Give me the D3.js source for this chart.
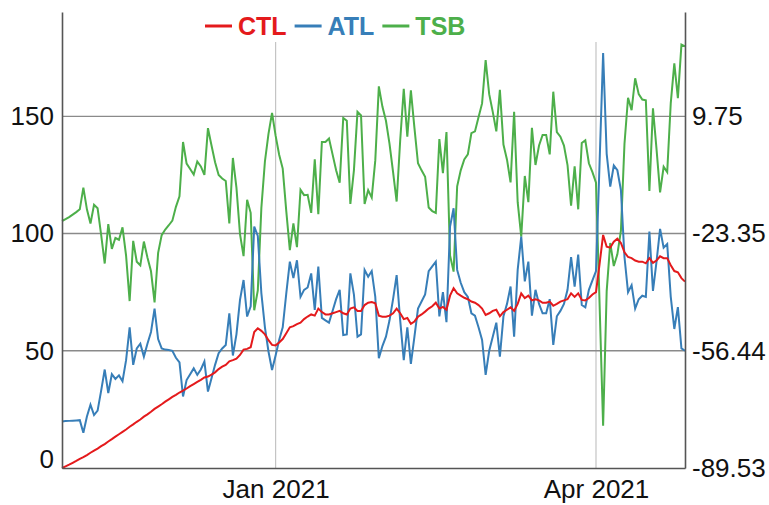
<!DOCTYPE html>
<html>
<head>
<meta charset="utf-8">
<script src="https://cdn.jsdelivr.net/npm/d3@7"></script>
<style>
    body { margin: 0; background: #fff; }
    svg { display: block; font-family: "Liberation Sans", Arial, sans-serif; }
</style>
</head>
<body>
<svg id="chart" width="769" height="505"></svg>
<script>
// first day of the series, one value per day after that
const startDate = new Date(2020, 10, 2);

const ctl = [
    0, 0.7, 1.4, 2.2, 3.0, 3.9, 4.6, 5.5, 6.5, 7.4,
    8.3, 9.3, 10.2, 11.3, 12.3, 13.4, 14.4, 15.4, 16.4, 17.6,
    18.6, 19.7, 20.7, 21.9, 22.9, 24.0, 25.2, 26.2, 27.2, 28.3,
    29.3, 30.3, 31.2, 32.2, 33.0, 33.9, 34.9, 35.8, 36.7, 37.6,
    38.6, 39.0, 39.8, 40.8, 42.2, 43.2, 44.0, 45.5, 46.0, 46.6,
    48.2, 50.5, 50.8, 51.5, 58.0, 59.6, 58.5, 57.0, 54.5, 52.5,
    52.3, 53.5, 55.0, 57.5, 60.0, 60.5, 61.4, 62.0, 63.5, 64.6,
    65.5, 65.0, 68.0, 66.5, 65.5, 65.5, 66.0, 66.5, 67.0, 66.0,
    65.5, 68.0, 68.5, 67.0, 67.0, 69.5, 70.5, 70.8, 70.3, 65.0,
    64.5, 64.5, 65.0, 66.0, 68.0, 66.0, 63.5, 64.0, 61.5, 62.5,
    64.5, 65.5, 66.7, 68.0, 69.0, 70.5, 68.0, 68.7, 67.5, 73.5,
    76.7, 74.5, 73.5, 72.6, 72.0, 71.0, 70.5, 69.5, 68.0, 65.3,
    66.0, 67.0, 67.5, 64.7, 66.5, 67.5, 68.5, 67.0, 70.0, 74.5,
    72.5, 73.5, 71.5, 72.0, 71.5, 70.5, 70.5, 71.0, 69.2, 70.0,
    71.0, 71.5, 72.0, 74.5, 73.0, 74.5, 71.7, 71.5, 72.5, 74.0,
    75.0, 87.0, 99.4, 94.4, 94.0, 96.5, 97.8, 96.0, 92.0, 90.0,
    89.5, 88.5, 88.0, 88.0, 87.3, 89.5, 87.5, 88.5, 90.3, 89.5,
    89.5, 86.5, 84.0, 83.5, 81.0, 79.5
];

const atl = [
    19.8, 20.0, 20.1, 20.2, 20.3, 20.4, 15.0, 22.0, 27.0, 22.6,
    24.5, 33.0, 42.0, 32.0, 40.0, 38.0, 39.5, 37.0, 46.0, 60.0,
    44.0, 51.0, 53.0, 47.5, 53.0, 58.0, 68.0, 55.0, 51.0, 50.5,
    50.3, 50.0, 47.0, 45.0, 30.5, 37.5, 40.0, 42.5, 39.7, 42.0,
    45.4, 32.6, 38.3, 44.0, 49.0, 51.0, 52.5, 66.0, 48.0, 57.0,
    71.7, 80.2, 64.6, 69.0, 103.0, 99.0, 74.6, 60.0, 49.7, 41.8,
    48.0, 54.6, 60.0, 74.5, 88.0, 81.0, 88.6, 73.0, 76.0, 77.0,
    83.0, 67.4, 85.9, 64.0, 63.0, 62.0, 67.0, 72.0, 76.0, 56.7,
    57.0, 83.0, 74.0, 56.0, 57.0, 84.5, 81.6, 84.0, 73.0, 46.8,
    52.0, 56.0, 63.0, 72.0, 82.3, 63.0, 46.0, 60.0, 44.4, 56.0,
    68.0, 71.0, 74.0, 84.0, 86.0, 88.0, 64.7, 75.0, 62.2, 103.0,
    110.8, 84.5, 79.0, 75.0, 73.0, 66.0, 65.0, 60.0, 54.6, 39.7,
    50.0, 56.0, 62.0, 47.5, 64.7, 70.0, 77.4, 56.0, 84.5, 98.7,
    79.6, 88.0, 65.0, 76.0, 70.0, 66.0, 66.0, 72.0, 52.5, 64.7,
    67.0, 70.0, 76.0, 90.0, 77.4, 91.0, 69.5, 68.5, 76.0, 80.0,
    84.0, 130.0, 177.0, 134.0, 120.0, 129.0, 127.0, 118.5, 90.0, 75.0,
    78.0, 68.0, 72.0, 73.5, 73.0, 100.8, 75.5, 88.0, 102.0, 94.0,
    95.5, 73.0, 59.3, 68.6, 51.0, 50.0
];

const tsb = [
    -19.8, -19.3, -18.7, -18.0, -17.3, -16.5, -10.4, -16.5, -20.5, -15.2,
    -16.2, -23.7, -31.8, -20.7, -27.7, -24.6, -25.1, -21.6, -29.6, -42.4,
    -25.4, -31.3, -32.3, -25.6, -30.1, -34.0, -42.8, -28.8, -23.8, -22.2,
    -21.0, -19.7, -15.8, -12.8, 2.5, -3.6, -5.1, -6.7, -3.0, -4.4,
    -6.8, 6.4, 1.5, -3.2, -6.8, -7.8, -8.5, -20.5, -2.0, -10.4,
    -23.5, -29.7, -13.8, -17.5, -45.0, -39.4, -16.1, -3.0, 4.8, 10.7,
    4.3, -1.1, -5.0, -17.0, -28.0, -20.5, -27.2, -11.0, -12.5, -12.4,
    -17.5, -2.4, -17.9, 2.5, 2.5, 3.5, -1.0, -5.5, -9.0, 9.3,
    8.5, -15.0, -5.5, 11.0, 10.0, -15.0, -11.1, -13.2, -2.7, 18.2,
    12.5, 8.5, 2.0, -6.0, -14.3, 3.0, 17.5, 4.0, 17.1, 6.5,
    -3.5, -5.5, -7.3, -16.0, -17.0, -17.5, 3.3, -6.3, 5.3, -29.5,
    -34.1, -10.0, -5.5, -2.4, -1.0, 5.0, 5.5, 9.5, 13.4, 25.6,
    16.0, 11.0, 5.5, 17.2, 1.8, -2.5, -8.9, 11.0, -14.5, -24.2,
    -7.1, -14.5, 6.5, -4.0, 1.5, 4.5, 4.5, -1.0, 16.7, 5.3,
    4.0, 1.5, -4.0, -15.5, -4.4, -16.5, 2.2, 3.0, -3.5, -6.0,
    -9.0, -43.0, -77.6, -39.6, -26.0, -32.5, -29.2, -22.5, 2.0, 15.0,
    11.5, 20.5, 16.0, 14.5, 14.3, -11.3, 12.0, 0.5, -11.7, -4.5,
    -6.0, 13.5, 24.7, 14.9, 30.0, 29.5
];

const leftTicks = [0, 50, 100, 150];
const rightTicks = [-89.53, -56.44, -23.35, 9.75];
const dateTicks = [new Date(2021, 0, 1), new Date(2021, 3, 1)];

const seriesNames = ['CTL', 'ATL', 'TSB'];
const seriesColors = ['#e41a1c', '#377eb8', '#4daf4a'];

const svg = d3.select('#chart');
const margin = {left: 62, right: 685, top: 12, bottom: 468};

let dates = ctl.map((v, i) => d3.timeDay.offset(startDate, i));

let x = d3.scaleTime()
    .domain([startDate, dates[dates.length - 1]])
    .range([margin.left, margin.right]);
let yLeft = d3.scaleLinear().domain([0, 194.5]).range([margin.bottom, margin.top]);
let yRight = d3.scaleLinear().domain([-89.53, 39.2]).range([margin.bottom, margin.top]);

// vertical grid
svg.append('g')
    .selectAll('line')
    .data(dateTicks)
    .enter()
    .append('line')
    .attr('x1', d => x(d)).attr('x2', d => x(d))
    .attr('y1', 42).attr('y2', margin.bottom)
    .style('stroke', '#c4c4c4')
    .style('stroke-width', 1.2);

// horizontal grid
svg.append('g')
    .selectAll('line')
    .data(leftTicks.slice(1))
    .enter()
    .append('line')
    .attr('x1', margin.left).attr('x2', margin.right)
    .attr('y1', d => yLeft(d)).attr('y2', d => yLeft(d))
    .style('stroke', '#8a8a8a')
    .style('stroke-width', 1.4);

// lines, TSB first so CTL ends up on top
let lineLeft = d3.line().x((d, i) => x(dates[i])).y(d => yLeft(d));
let lineRight = d3.line().x((d, i) => x(dates[i])).y(d => yRight(d));

svg.append('path').attr('d', lineRight(tsb))
    .style('fill', 'none').style('stroke', seriesColors[2]).style('stroke-width', 2);
svg.append('path').attr('d', lineLeft(atl))
    .style('fill', 'none').style('stroke', seriesColors[1]).style('stroke-width', 2);
svg.append('path').attr('d', lineLeft(ctl))
    .style('fill', 'none').style('stroke', seriesColors[0]).style('stroke-width', 2);

// axes
let axisLeft = svg.append('g')
    .attr('transform', `translate(${margin.left},0)`)
    .call(d3.axisLeft(yLeft).tickValues(leftTicks).tickSize(0).tickPadding(8));
let axisRight = svg.append('g')
    .attr('transform', `translate(${margin.right},0)`)
    .call(d3.axisRight(yRight).tickValues(rightTicks).tickSize(0).tickPadding(7)
        .tickFormat(d => d.toFixed(2)));   // plain hyphen, not the unicode minus
let axisBottom = svg.append('g')
    .attr('transform', `translate(0,${margin.bottom})`)
    .call(d3.axisBottom(x).tickValues(dateTicks).tickSize(0).tickPadding(12)
        .tickFormat(d3.timeFormat('%b %Y')));

[axisLeft, axisRight, axisBottom].forEach(function (a) {
    a.select('.domain').style('stroke', '#555').style('stroke-width', 1.6);
    a.selectAll('text')
        .style('font-size', '26px')
        .style('font-family', '"Liberation Sans", Arial, sans-serif')
        .style('fill', '#111');
});
// the lowest left label sits on the axis instead of centred on it
axisLeft.selectAll('.tick text').filter(d => d === 0).attr('dy', '0').attr('y', -1);

// legend
let legend = svg.append('g').attr('transform', 'translate(205,26)');
let lx = 0;
seriesNames.forEach(function (name, i) {
    legend.append('line')
        .attr('x1', lx).attr('x2', lx + 27)
        .attr('y1', 0).attr('y2', 0)
        .style('stroke', seriesColors[i])
        .style('stroke-width', 3);
    let t = legend.append('text')
        .attr('x', lx + 33)
        .attr('y', 9)
        .style('font-size', '25px')
        .style('font-weight', 'bold')
        .style('fill', seriesColors[i])
        .text(name);
    lx += 33 + t.node().getComputedTextLength() + 8;
});
</script>
</body>
</html>
